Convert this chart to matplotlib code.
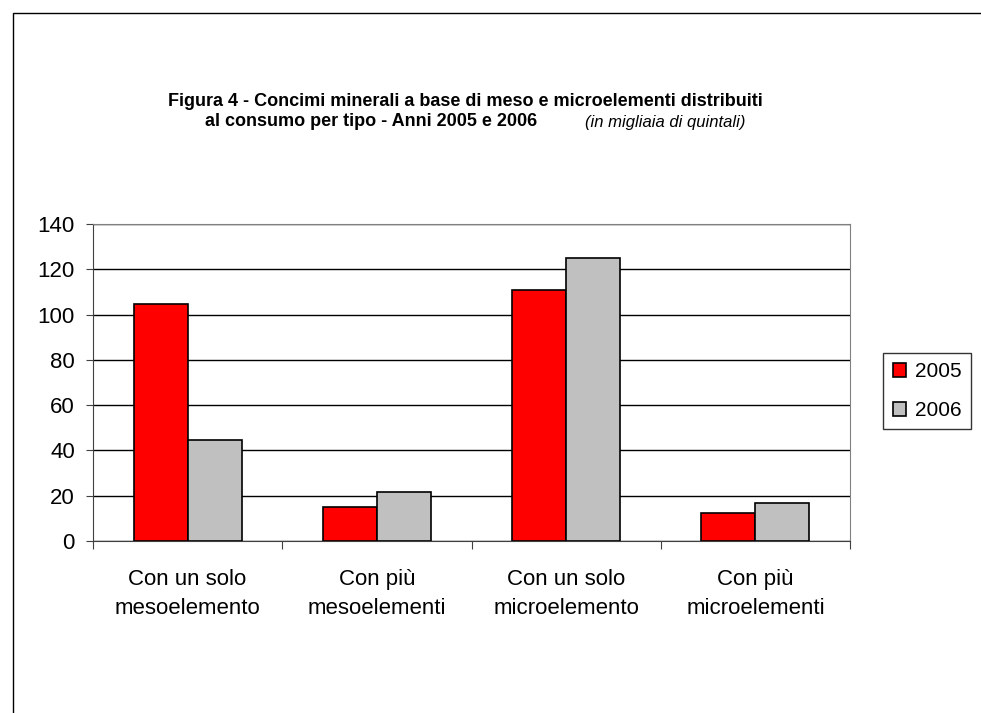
import numpy as np
import matplotlib.pyplot as plt
from matplotlib.patches import Rectangle

plt.rcParams['font.family'] = ['Liberation Sans', 'DejaVu Sans']

categories = ["Con un solo\nmesoelemento", "Con più\nmesoelementi",
              "Con un solo\nmicroelemento", "Con più\nmicroelementi"]
years = ["2005", "2006"]
values_2005 = [104.5, 15.0, 110.8, 12.2]
values_2006 = [44.8, 21.8, 125.0, 16.6]
yticks = [0, 20, 40, 60, 80, 100, 120, 140]

W, H = 981, 713


def px(x, y):
    return x / W, 1 - y / H


def main():
    fig = plt.figure(figsize=(W / 100, H / 100), dpi=100)
    fig.patch.set_facecolor('white')

    # outer frame of the chart
    fig.patches.append(Rectangle(px(13, 760), (1000 - 13) / W, (760 - 13) / H,
                                 transform=fig.transFigure, fill=False,
                                 edgecolor='black', linewidth=1))

    l, b = px(93, 541)
    r, t = px(850, 224)
    ax = fig.add_axes([l, b, r - l, t - b])

    x = np.arange(len(categories))
    w = 1 / 3.5
    ax.bar(x - w / 2, values_2005, w, color='#ff0000', edgecolor='black',
           linewidth=1.2, label=years[0], zorder=3)
    ax.bar(x + w / 2, values_2006, w, color='#c0c0c0', edgecolor='black',
           linewidth=1.2, label=years[1], zorder=3)

    ax.set_xlim(-0.5, len(categories) - 0.5)
    ax.set_ylim(0, 140)
    ax.set_yticks(yticks)
    ax.set_yticklabels([str(v) for v in yticks], fontsize=16)
    ax.yaxis.grid(True, color='black', linewidth=1, zorder=0)
    ax.set_axisbelow(True)

    ax.set_xticks(np.arange(len(categories) + 1) - 0.5)
    ax.set_xticklabels([])
    ax.tick_params(axis='x', length=6, direction='out', color='#404040')
    ax.tick_params(axis='y', length=5, direction='out', color='#404040', pad=8)
    for i, c in enumerate(categories):
        ax.text(i, -12.5, c, ha='center', va='top', fontsize=16,
                linespacing=1.5, transform=ax.transData)

    for s in ['top', 'right']:
        ax.spines[s].set_color('#808080')
    for s in ['left', 'bottom']:
        ax.spines[s].set_color('#404040')

    leg = fig.legend(loc='center', bbox_to_anchor=(px(927, 391)),
                     fontsize=15, frameon=True, fancybox=False,
                     handlelength=0.65, handleheight=0.65, handletextpad=0.4,
                     labelspacing=0.95, borderpad=0.45, borderaxespad=0)
    leg.get_frame().set_edgecolor('black')
    leg.get_frame().set_linewidth(1)

    fig.text(*px(465, 101), "Figura 4 - Concimi minerali a base di meso e microelementi distribuiti",
             ha='center', va='center', fontsize=13, fontweight='bold')
    fig.text(*px(371, 122), "al consumo per tipo - Anni 2005 e 2006",
             ha='center', va='center', fontsize=13, fontweight='bold')
    fig.text(*px(665, 122), "(in migliaia di quintali)",
             ha='center', va='center', fontsize=12, style='italic')

    fig.savefig("out.png", dpi=100)


if __name__ == "__main__":
    main()
